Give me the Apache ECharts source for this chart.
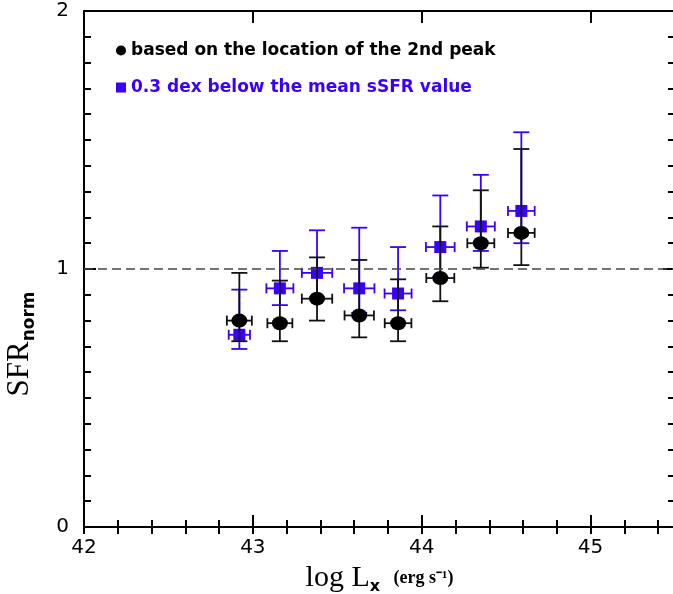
<!DOCTYPE html>
<html>
<head>
<meta charset="utf-8">
<style>
    html, body { margin: 0; padding: 0; background: #fff; }
    #chart { width: 673px; height: 594px; }
</style>
<script src="https://cdn.jsdelivr.net/npm/echarts@6/dist/echarts.min.js"></script>
</head>
<body>
<div id="chart"></div>
<script>
// log Lx bins (erg s^-1)
const lumBins = [42.92, 43.16, 43.38, 43.63, 43.86, 44.11, 44.35, 44.59]

// based on the location of the 2nd peak
const peakSfr = [0.80, 0.79, 0.885, 0.82, 0.79, 0.965, 1.10, 1.14]
const peakLow = [0.72, 0.72, 0.80, 0.735, 0.72, 0.875, 1.005, 1.015]
const peakHigh = [0.985, 0.955, 1.045, 1.035, 0.96, 1.165, 1.305, 1.465]
const peakXerr = [0.074, 0.074, 0.09, 0.087, 0.079, 0.083, 0.08, 0.079]

// 0.3 dex below the mean sSFR value
const dexSfr = [0.745, 0.925, 0.985, 0.925, 0.905, 1.085, 1.165, 1.225]
const dexLow = [0.69, 0.86, 0.89, 0.83, 0.84, 0.97, 1.07, 1.10]
const dexHigh = [0.92, 1.07, 1.15, 1.16, 1.085, 1.285, 1.365, 1.53]
const dexXerr = [0.063, 0.08, 0.09, 0.09, 0.08, 0.085, 0.083, 0.079]

const xTickLabels = ['42', '43', '44', '45']
const yTickLabels = ['0', '1', '2']

const PEAK_NAME = 'based on the location of the 2nd peak'
const DEX_NAME = '0.3 dex below the mean sSFR value'
const BLUE = '#3a00ff'
const LABEL_FONT = 'DejaVu Sans'
const SERIF = 'Liberation Serif'

/**
 * @description 拼出 [x, y, low, high, xerr] 的数据行
 */
const buildRows = (ys, lows, highs, xerrs) => lumBins.map((x, i) => [x, ys[i], lows[i], highs[i], xerrs[i]])

/**
 * @description 误差棒：竖线带横帽，横线带竖帽
 */
const renderErrorBar = (params, api) => {
    const x = api.value(0)
    const y = api.value(1)
    const lo = api.coord([x, api.value(2)])
    const hi = api.coord([x, api.value(3)])
    const left = api.coord([x - api.value(4), y])
    const right = api.coord([x + api.value(4), y])
    const capW = 8
    const capH = 5
    const style = { stroke: api.visual('color'), lineWidth: 1.8 }
    const seg = (x1, y1, x2, y2) => ({ type: 'line', shape: { x1, y1, x2, y2 }, style })
    return {
        type: 'group',
        children: [
            seg(lo[0], lo[1], hi[0], hi[1]),
            seg(lo[0] - capW, lo[1], lo[0] + capW, lo[1]),
            seg(hi[0] - capW, hi[1], hi[0] + capW, hi[1]),
            seg(left[0], left[1], right[0], right[1]),
            seg(left[0], left[1] - capH, left[0], left[1] + capH),
            seg(right[0], right[1] - capH, right[0], right[1] + capH),
        ]
    }
}

const frameLine = { show: true, onZero: false, lineStyle: { color: '#000', width: 2 } }
const tickLabel = { color: '#000', fontFamily: LABEL_FONT, fontSize: 20 }

/**
 * @description x 轴：主刻度轴 + 0.2 间隔的短刻度轴，上下各一对
 */
const makeXAxes = () => {
    const base = { type: 'value', min: 42, max: 45.5, splitLine: { show: false } }
    const major = (position, showLabel) => Object.assign({}, base, {
        position,
        interval: 1,
        axisLine: frameLine,
        axisTick: { show: true, inside: true, length: 12, lineStyle: { color: '#000', width: 2 } },
        axisLabel: Object.assign({
            show: showLabel,
            showMaxLabel: false,
            margin: 11,
            formatter: (v) => xTickLabels.includes(String(v)) ? String(v) : ''
        }, tickLabel)
    })
    const minor = (position) => Object.assign({}, base, {
        position,
        interval: 0.2,
        axisLine: { show: false },
        axisTick: { show: true, inside: true, length: 7, lineStyle: { color: '#000', width: 2 } },
        axisLabel: { show: false }
    })
    const bottom = major('bottom', true)
    bottom.name = '{a|log L}{b|x}{c|   (erg s⁻¹)}'
    bottom.nameLocation = 'middle'
    bottom.nameGap = 33
    bottom.nameTextStyle = {
        rich: {
            a: { fontFamily: SERIF, fontSize: 30, color: '#000', lineHeight: 34 },
            b: { fontFamily: LABEL_FONT, fontWeight: 'bold', fontSize: 16, color: '#000', verticalAlign: 'bottom', lineHeight: 26 },
            c: { fontFamily: SERIF, fontWeight: 'bold', fontSize: 18, color: '#000', lineHeight: 30 }
        }
    }
    return [bottom, minor('bottom'), major('top', false), minor('top')]
}

/**
 * @description y 轴：左右两侧，0.1 的次刻度
 */
const makeYAxes = () => {
    const axis = (position, showLabel) => ({
        type: 'value',
        position,
        min: 0,
        max: 2,
        interval: 1,
        splitLine: { show: false },
        axisLine: frameLine,
        axisTick: { show: true, inside: true, length: 12, lineStyle: { color: '#000', width: 2 } },
        minorTick: { show: true, splitNumber: 10, length: 7, lineStyle: { color: '#000', width: 2 } },
        axisLabel: Object.assign({
            show: showLabel,
            margin: 15,
            formatter: (v) => yTickLabels.includes(String(v)) ? String(v) : ''
        }, tickLabel)
    })
    const left = axis('left', true)
    left.name = '{a|SFR}{b|norm}'
    left.nameLocation = 'middle'
    left.nameGap = 46
    left.nameTextStyle = {
        padding: [0, 150, 0, 0],
        rich: {
            a: { fontFamily: SERIF, fontSize: 31, color: '#000', lineHeight: 36 },
            b: { fontFamily: LABEL_FONT, fontWeight: 'bold', fontSize: 17, color: '#000', verticalAlign: 'bottom', lineHeight: 26 }
        }
    }
    return [left, axis('right', false)]
}

const chart = echarts.init(document.getElementById('chart'))

const option = {
    animation: false,
    backgroundColor: '#fff',
    grid: { left: 84, right: -2, top: 11, bottom: 67, outerBoundsMode: 'none' },
    xAxis: makeXAxes(),
    yAxis: makeYAxes(),
    legend: {
        orient: 'vertical',
        left: 111,
        top: 37,
        itemGap: 20,
        itemWidth: 10,
        itemHeight: 10,
        selectedMode: false,
        textStyle: { fontFamily: LABEL_FONT, fontWeight: 'bold', fontSize: 17 },
        data: [
            { name: PEAK_NAME, icon: 'circle', textStyle: { color: '#000' } },
            { name: DEX_NAME, icon: 'rect', textStyle: { color: BLUE } }
        ]
    },
    series: [
        {
            type: 'custom',
            name: 'dexErr',
            renderItem: renderErrorBar,
            itemStyle: { color: BLUE },
            encode: { x: 0, y: 1 },
            data: buildRows(dexSfr, dexLow, dexHigh, dexXerr),
            markLine: {
                silent: true,
                symbol: 'none',
                label: { show: false },
                lineStyle: { color: '#444', width: 1.5, type: [9, 5] },
                data: [{ yAxis: 1 }]
            },
            z: 2
        },
        {
            type: 'scatter',
            name: DEX_NAME,
            symbol: 'rect',
            symbolSize: 12,
            itemStyle: { color: BLUE, opacity: 1 },
            data: lumBins.map((x, i) => [x, dexSfr[i]]),
            z: 3
        },
        {
            type: 'custom',
            name: 'peakErr',
            renderItem: renderErrorBar,
            itemStyle: { color: '#111' },
            encode: { x: 0, y: 1 },
            data: buildRows(peakSfr, peakLow, peakHigh, peakXerr),
            z: 4
        },
        {
            type: 'scatter',
            name: PEAK_NAME,
            symbol: 'circle',
            symbolSize: [16, 14],
            itemStyle: { color: '#000', opacity: 1 },
            data: lumBins.map((x, i) => [x, peakSfr[i]]),
            z: 5
        }
    ]
}

chart.setOption(option)
window.addEventListener('resize', () => {
    chart.resize()
})
</script>
</body>
</html>
